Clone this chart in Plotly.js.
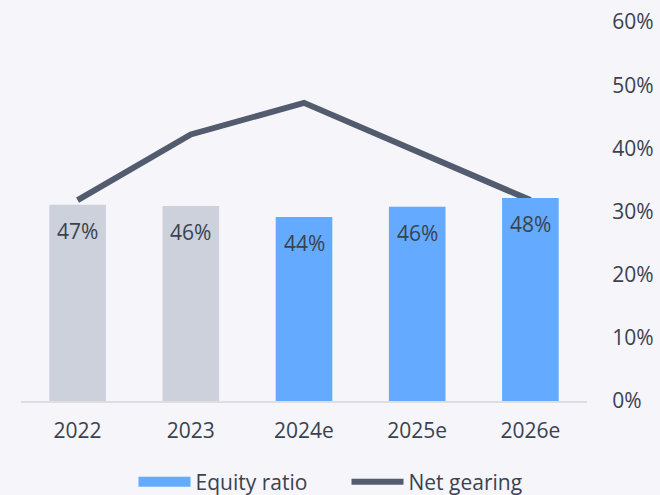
<!DOCTYPE html>
<html>
<head>
<meta charset="utf-8">
<script src="https://cdn.plot.ly/plotly-3.0.1.min.js"></script>
<style>
  html, body { margin: 0; padding: 0; background: #f5f5fa; }
  #chart { width: 660px; height: 495px; }
</style>
</head>
<body>
<div id="chart"></div>
<script>
// categories and series
const years = ["2022", "2023", "2024e", "2025e", "2026e"];
const equityRatio = [0.466, 0.463, 0.437, 0.461, 0.482];
const equityLabels = ["47%", "46%", "44%", "46%", "48%"];
const netGearing = [0.318, 0.422, 0.472, 0.394, 0.318];
const isEstimate = [false, false, true, true, true];

const textColor = "#3a4250";
const font = "'Open Sans', sans-serif";
const blue = "#64abff";

const pick = (arr, est) => arr.filter((_, i) => isEstimate[i] === est);

// actual years in grey, estimates in blue
const barsActual = {
  x: pick(years, false),
  y: pick(equityRatio, false),
  type: "bar",
  name: "Equity ratio",
  yaxis: "y2",
  showlegend: false,
  marker: { color: "#cdd1dc" },
  hoverinfo: "skip"
};

const barsEstimate = {
  x: pick(years, true),
  y: pick(equityRatio, true),
  type: "bar",
  name: "Equity ratio",
  yaxis: "y2",
  showlegend: false,
  marker: { color: blue },
  hoverinfo: "skip"
};

// legend-only entry so the swatch is a wide block like the original
const equityKey = {
  x: [null],
  y: [null],
  type: "scatter",
  mode: "lines",
  name: "Equity ratio",
  line: { color: blue, width: 14 },
  hoverinfo: "skip"
};

const line = {
  x: years,
  y: netGearing,
  type: "scatter",
  mode: "lines",
  name: "Net gearing",
  line: { color: "#525c6e", width: 6 },
  hoverinfo: "skip"
};

// labels sit just under each bar's top
const labels = years.map((yr, i) => ({
  x: i,
  y: equityRatio[i],
  xref: "x",
  yref: "y2",
  text: equityLabels[i],
  showarrow: false,
  yshift: -26,
  font: { family: font, size: 21, color: textColor }
}));

const layout = {
  width: 660,
  height: 495,
  paper_bgcolor: "#f5f5fa",
  plot_bgcolor: "#f5f5fa",
  margin: { l: 21, r: 73, t: 22, b: 94 },
  font: { family: font, size: 21, color: textColor },
  bargap: 0.5,
  barmode: "overlay",
  showlegend: true,
  legend: {
    orientation: "h",
    xref: "container",
    yref: "container",
    x: 0.525,
    xanchor: "center",
    y: 0.026,
    yanchor: "middle",
    itemwidth: 52,
    entrywidth: 146,
    font: { family: font, size: 21, color: textColor },
    traceorder: "normal"
  },
  xaxis: {
    type: "category",
    categoryorder: "array",
    categoryarray: years,
    range: [-0.5, years.length - 0.5],
    showgrid: false,
    showline: true,
    linecolor: "#dcdee4",
    linewidth: 2,
    ticks: "outside",
    ticklen: 10,
    tickcolor: "rgba(0,0,0,0)",
    tickangle: 0
  },
  yaxis: {
    side: "right",
    range: [0, 0.6],
    dtick: 0.1,
    tickformat: ".0%",
    showgrid: false,
    zeroline: false,
    ticks: "outside",
    ticklen: 20,
    tickcolor: "rgba(0,0,0,0)"
  },
  yaxis2: {
    overlaying: "y",
    side: "left",
    range: [0, 0.9],
    visible: false
  },
  annotations: labels
};

Plotly.newPlot("chart", [barsActual, barsEstimate, equityKey, line], layout, { displayModeBar: false, staticPlot: true });
</script>
</body>
</html>
